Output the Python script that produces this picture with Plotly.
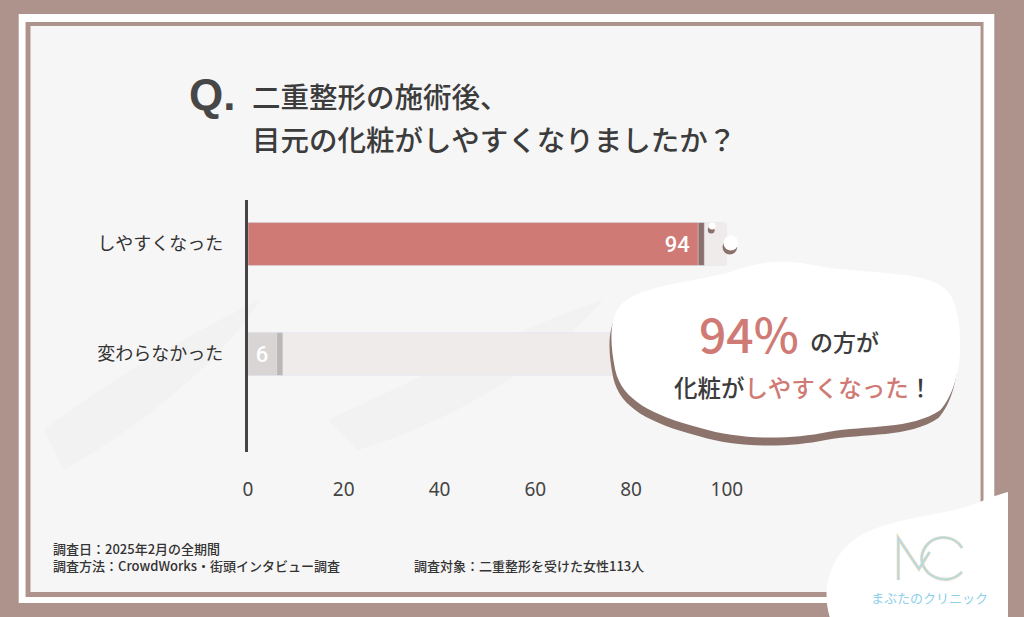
import plotly.graph_objects as go

# ---------------- data ----------------
categories = ["しやすくなった", "変わらなかった"]
values = [94, 6]
value_labels = ["94", "6"]
track_max = [100, 100]
x_ticks = [0, 20, 40, 60, 80, 100]

title_q = "Q."
title_line1 = "二重整形の施術後、"
title_line2 = "目元の化粧がしやすくなりましたか？"
callout_pct = "94%"
callout_tail = "の方が"
footer_date = "調査日：2025年2月の全期間"
footer_method = "調査方法：CrowdWorks・街頭インタビュー調査"
footer_target = "調査対象：二重整形を受けた女性113人"
logo_text = "まぶたのクリニック"

# ---------------- style ----------------
W, H = 1024, 617
BROWN = "#ad938c"
PANEL = "#f7f6f6"
RED = "#d07a75"
DARK = "#3c3c3c"
bar_colors = [RED, "#d9d5d4"]
shadow_colors = ["#8a716b", "#bcb7b6"]
TRACK = "#efebea"
TRACK_SHADOW = "#e2dedd"
FONT = "Noto Sans CJK JP"


def px(x):
    return x / W


def py(y):
    return 1 - y / H


def path(cmds):
    out = []
    for c in cmds:
        op = c[0]
        pts = c[1:]
        if op == "Z":
            out.append("Z")
            continue
        coords = []
        for i in range(0, len(pts), 2):
            coords.append(f"{px(pts[i]):.5f},{py(pts[i+1]):.5f}")
        out.append(op + " " + " ".join(coords))
    return " ".join(out)


def offset(cmds, dx, dy):
    res = []
    for c in cmds:
        if c[0] == "Z":
            res.append(c)
            continue
        pts = list(c[1:])
        for i in range(0, len(pts), 2):
            pts[i] += dx
            pts[i + 1] += dy
        res.append((c[0], *pts))
    return res


fig = go.Figure()

shadow_vals = [v + 1.3 for v in values]
track_shadow_vals = [t + 2 for t in track_max]

fig.add_trace(go.Bar(y=categories, x=track_shadow_vals, orientation="h", width=0.39,
                     marker=dict(color=TRACK_SHADOW, cornerradius=16), hoverinfo="skip", showlegend=False))
fig.add_trace(go.Bar(y=categories, x=track_max, orientation="h", width=0.39,
                     marker=dict(color=TRACK, cornerradius=16), hoverinfo="skip", showlegend=False))
fig.add_trace(go.Bar(y=categories, x=shadow_vals, orientation="h", width=0.39,
                     marker=dict(color=shadow_colors, cornerradius=10), hoverinfo="skip", showlegend=False))
fig.add_trace(go.Bar(y=categories, x=values, orientation="h", width=0.39,
                     marker=dict(color=bar_colors, cornerradius=9),
                     text=value_labels, textposition="inside", insidetextanchor="end",
                     texttemplate="%{text} ",
                     textfont=dict(family="Roboto", size=22, color="white", weight=500),
                     showlegend=False))

shapes = []
# frame
shapes.append(dict(type="rect", xref="paper", yref="paper", x0=px(14), x1=px(1010), y0=py(603), y1=py(14),
                   fillcolor="white", line=dict(width=0), layer="below"))
shapes.append(dict(type="rect", xref="paper", yref="paper", x0=px(21), x1=px(999), y0=py(597), y1=py(22),
                   fillcolor=BROWN, line=dict(width=0), layer="below"))
shapes.append(dict(type="rect", xref="paper", yref="paper", x0=px(26), x1=px(996), y0=py(592), y1=py(26),
                   fillcolor=PANEL, line=dict(width=0), layer="below"))

# soft background shadows
soft = [
    [("M", 40, 430), ("C", 120, 370, 200, 330, 260, 300), ("C", 230, 350, 150, 420, 60, 470), ("Z",)],
    [("M", 330, 420), ("C", 420, 380, 520, 330, 610, 300), ("C", 560, 360, 460, 420, 360, 450), ("Z",)],
]
for s in soft:
    shapes.append(dict(type="path", xref="paper", yref="paper", path=path(s),
                       fillcolor="#eeeded", opacity=0.5, line=dict(width=0), layer="below"))

# decoration dots near end of top track
for (cx, cy, r) in [(722, 226, 3.5), (741, 243, 7.5)]:
    shapes.append(dict(type="circle", xref="paper", yref="paper", x0=px(cx - r - 1), x1=px(cx + r - 1),
                       y0=py(cy + r + 4), y1=py(cy - r + 4), fillcolor="#8a716b", line=dict(width=0)))
    shapes.append(dict(type="circle", xref="paper", yref="paper", x0=px(cx - r), x1=px(cx + r),
                       y0=py(cy + r), y1=py(cy - r), fillcolor="white", line=dict(width=0)))

# callout blob
blob = [
    ("M", 625, 310),
    ("C", 640, 285, 700, 283, 740, 272),
    ("C", 770, 262, 790, 258, 830, 266),
    ("C", 890, 276, 955, 268, 968, 300),
    ("C", 980, 330, 978, 385, 955, 410),
    ("C", 925, 430, 880, 425, 840, 432),
    ("C", 800, 440, 750, 440, 710, 428),
    ("C", 660, 415, 630, 400, 623, 370),
    ("C", 618, 345, 617, 325, 625, 310),
    ("Z",),
]
shapes.append(dict(type="path", xref="paper", yref="paper", path=path(offset(blob, -2, 8)),
                   fillcolor="#8c746d", line=dict(width=0)))
shapes.append(dict(type="path", xref="paper", yref="paper", path=path(blob),
                   fillcolor="white", line=dict(width=0)))

# logo blob
logo_blob = [
    ("M", 842, 617),
    ("C", 832, 585, 845, 548, 880, 532),
    ("C", 920, 515, 965, 515, 995, 502),
    ("C", 1008, 497, 1016, 494, 1024, 492),
    ("L", 1024, 617),
    ("Z",),
]
shapes.append(dict(type="path", xref="paper", yref="paper", path=path(logo_blob),
                   fillcolor="white", line=dict(width=0)))

# MC logo strokes
m_path = [("M", 912, 580), ("L", 912, 538), ("L", 933, 569), ("L", 944, 552)]
c_path = [("M", 977, 548), ("C", 968, 532, 940, 534, 936, 556), ("C", 934, 576, 962, 588, 977, 572)]
for col, wdt in [("#ead7b8", 3.2), ("#a9dcef", 1.4)]:
    for pth in (m_path, c_path):
        shapes.append(dict(type="path", xref="paper", yref="paper", path=path(pth),
                           line=dict(color=col, width=wdt)))

annotations = [
    dict(x=px(186), y=py(95), text=f"<b>{title_q}</b>", xanchor="left", yanchor="middle",
         font=dict(family="Liberation Sans", size=44, color="#474747")),
    dict(x=px(250), y=py(96), text=title_line1, xanchor="left", yanchor="middle",
         font=dict(family=FONT, size=28.5, color=DARK, weight=500)),
    dict(x=px(250), y=py(138), text=title_line2, xanchor="left", yanchor="middle",
         font=dict(family=FONT, size=28.5, color=DARK, weight=500)),
    dict(x=px(813), y=py(332), text=callout_pct, xanchor="right", yanchor="middle",
         font=dict(family=FONT, size=48, color=RED, weight=500)),
    dict(x=px(820), y=py(341), text=callout_tail, xanchor="left", yanchor="middle",
         font=dict(family=FONT, size=23, color=DARK, weight=500)),
    dict(x=px(815), y=py(387),
         text=f"化粧が<span style='color:{RED}'>しやすくなった</span>！",
         xanchor="center", yanchor="middle",
         font=dict(family=FONT, size=23.5, color=DARK, weight=500)),
    dict(x=px(47), y=py(548), text=footer_date, xanchor="left", yanchor="middle",
         font=dict(family=FONT, size=13, color="#333333", weight=500)),
    dict(x=px(47), y=py(565), text=footer_method, xanchor="left", yanchor="middle",
         font=dict(family=FONT, size=13, color="#333333", weight=500)),
    dict(x=px(416), y=py(565), text=footer_target, xanchor="left", yanchor="middle",
         font=dict(family=FONT, size=13, color="#333333", weight=500)),
    dict(x=px(944), y=py(597), text=logo_text, xanchor="center", yanchor="middle",
         font=dict(family=FONT, size=13, color="#8ccfe9")),
]
for a in annotations:
    a.update(xref="paper", yref="paper", showarrow=False)

fig.update_layout(
    width=W, height=H,
    margin=dict(l=0, r=0, t=0, b=0, pad=0),
    paper_bgcolor=BROWN,
    plot_bgcolor="rgba(0,0,0,0)",
    barmode="overlay",
    shapes=shapes,
    annotations=annotations,
    xaxis=dict(domain=[px(248), px(737)], range=[0, 100], tickvals=x_ticks,
               showgrid=False, zeroline=False, showline=False, ticks="",
               ticklabelstandoff=24,
               tickfont=dict(family="Noto Sans", size=19, color="#444444")),
    yaxis=dict(domain=[py(452), py(200)], type="category", categoryarray=categories,
               range=[1.89, -0.4], showgrid=False, zeroline=False,
               showline=True, linecolor="#444444", linewidth=3, ticks="",
               ticklabelstandoff=18,
               tickfont=dict(family=FONT, size=18, color="#333333")),
    uniformtext=dict(mode="show", minsize=10),
)

fig.write_html("out.html", config={"displayModeBar": False},
               post_script="document.body.style.margin='0';document.body.style.overflow='hidden';")
